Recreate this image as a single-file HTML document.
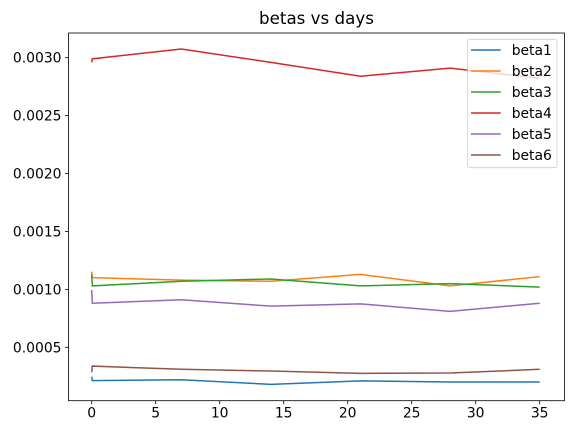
<!DOCTYPE html>
<html><head><meta charset="utf-8"><style>
body{margin:0;background:#fff}
svg{font-family:"DejaVu Sans","Liberation Sans",sans-serif}
</style></head><body>
<svg id="c" width="573" height="435" xmlns="http://www.w3.org/2000/svg"></svg>
<script>
const days=[0,0.05,7,14,21,28,35];
const seriesNames=["beta1","beta2","beta3","beta4","beta5","beta6"];
const beta1=[0.000246,0.000212,0.000220,0.000180,0.000210,0.000200,0.000200];
const beta2=[0.001153,0.001101,0.001080,0.001070,0.001130,0.001030,0.001110];
const beta3=[0.001130,0.001030,0.001070,0.001090,0.001030,0.001050,0.001020];
const beta4=[0.002960,0.002990,0.003075,0.002960,0.002840,0.002910,0.002822];
const beta5=[0.000995,0.000880,0.000910,0.000855,0.000875,0.000810,0.000880];
const beta6=[0.000284,0.000338,0.000310,0.000295,0.000275,0.000278,0.000310];
const xTicks=[0,5,10,15,20,25,30,35];
const yTicks=[0.0005,0.0010,0.0015,0.0020,0.0025,0.0030];
const colors=["#1f77b4","#ff7f0e","#2ca02c","#d62728","#9467bd","#8c564b"];
const all=[beta1,beta2,beta3,beta4,beta5,beta6];
const L=68.5,R=564.5,T=33,B=400.7;
const X=v=>91.7+v*12.8;
const Y=v=>347.3-(v-0.0005)*115840;
const svg=document.getElementById('c');
const NS="http://www.w3.org/2000/svg";
function mk(t,a,p){const e=document.createElementNS(NS,t);for(const k in a)e.setAttribute(k,a[k]);(p||svg).appendChild(e);return e;}
let t=mk('text',{x:316.5,y:24,'font-size':16.7,'text-anchor':'middle',fill:'#000'});t.textContent='betas vs days';


all.forEach((s,i)=>{
 const p=mk('polyline',{points:s.map((v,j)=>X(days[j])+','+Y(v)).join(' '),fill:'none',stroke:colors[i],'stroke-width':1.5});
 
 
});
const fr=mk('rect',{x:L,y:T,width:R-L,height:B-T,fill:'none',stroke:'#000','stroke-width':0.8});


xTicks.forEach(v=>{
 mk('line',{x1:X(v),x2:X(v),y1:B,y2:B+3.5,stroke:'#000','stroke-width':0.8});
 const tx=mk('text',{x:X(v),y:B+17,'font-size':13.9,'text-anchor':'middle'});tx.textContent=v;
 
 
});
yTicks.forEach(v=>{
 mk('line',{x1:L-3.5,x2:L,y1:Y(v),y2:Y(v),stroke:'#000','stroke-width':0.8});
 const ty=mk('text',{x:L-7,y:Y(v)+5,'font-size':13.9,'text-anchor':'end'});ty.textContent=v.toFixed(4);
 
 
});
const lg=mk('g',{});


mk('rect',{x:467.7,y:39.3,width:89.3,height:128.4,rx:2.5,fill:'#fff','fill-opacity':0.8,stroke:'#ccc','stroke-width':0.8},lg);
seriesNames.forEach((n,i)=>{
 const yy=50+i*21;
 const g=mk('g',{},lg);
 
 
 mk('line',{x1:471,x2:500.7,y1:yy,y2:yy,stroke:colors[i],'stroke-width':1.5},g);
 const tt=mk('text',{x:511.7,y:yy+5,'font-size':13.9},g);tt.textContent=n;
});
</script>
</body></html>
